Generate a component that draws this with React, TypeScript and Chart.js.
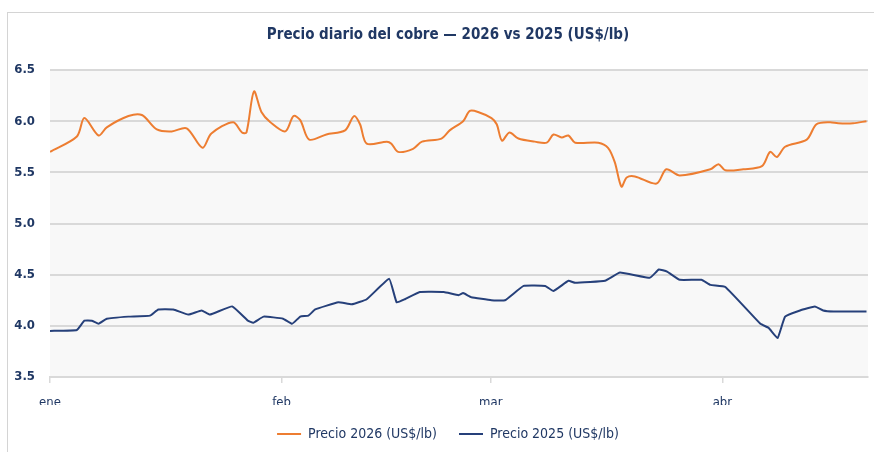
import React, { useEffect, useRef } from "react";
import { Chart, registerables } from "chart.js";

Chart.register(...registerables);

const monthTickDays = [0, 31, 59, 90];
const monthTickLabels = ["ene", "feb", "mar", "abr"];

const days2026 = [0, 3.6, 4.6, 6.5, 7.6, 10.5, 12.3, 14.3, 16.3, 18.3, 20.4, 21.6, 24.5, 25.7, 26.3, 27.3, 28.3, 29.5, 31.5, 32.6, 33.5, 34.7, 37.0, 39.5, 40.7, 41.5, 42.4, 45.1, 45.7, 46.6, 48.6, 49.8, 52.4, 53.5, 55.3, 56.2, 57.3, 59.1, 59.8, 60.5, 61.5, 62.7, 64.9, 66.5, 67.4, 68.5, 69.4, 70.3, 73.4, 74.7, 75.6, 76.5, 77.2, 78.3, 81.2, 82.5, 84.3, 88.4, 89.5, 90.4, 92.8, 95.3, 96.4, 97.3, 98.4, 101.3, 102.6, 104.4, 105.5, 107.5, 109.3];
const price2026 = [5.70, 5.85, 6.03, 5.86, 5.94, 6.05, 6.06, 5.92, 5.90, 5.93, 5.74, 5.88, 5.99, 5.89, 5.89, 6.29, 6.09, 5.99, 5.90, 6.05, 6.01, 5.82, 5.87, 5.91, 6.05, 5.97, 5.78, 5.80, 5.78, 5.70, 5.73, 5.80, 5.83, 5.91, 6.00, 6.10, 6.09, 6.03, 5.97, 5.81, 5.89, 5.83, 5.80, 5.79, 5.87, 5.84, 5.86, 5.79, 5.79, 5.74, 5.60, 5.36, 5.45, 5.46, 5.39, 5.53, 5.47, 5.53, 5.58, 5.52, 5.53, 5.56, 5.70, 5.65, 5.75, 5.82, 5.97, 5.99, 5.98, 5.98, 6.00];

const days2025 = [0, 3.6, 4.6, 5.6, 6.5, 7.6, 10.5, 13.4, 14.5, 16.5, 18.5, 20.3, 21.4, 24.4, 26.5, 27.2, 28.6, 31.2, 32.4, 33.5, 34.6, 35.5, 38.6, 40.4, 42.4, 45.4, 46.4, 47.5, 49.5, 52.7, 54.7, 55.3, 56.4, 59.1, 60.9, 63.4, 66.3, 67.4, 69.4, 70.3, 74.3, 76.3, 80.3, 81.5, 82.6, 84.3, 87.2, 88.4, 90.4, 95.1, 96.2, 97.4, 98.4, 100.4, 102.4, 103.5, 104.9, 109.3];
const price2025 = [3.95, 3.96, 4.05, 4.05, 4.02, 4.07, 4.09, 4.10, 4.16, 4.16, 4.11, 4.15, 4.11, 4.19, 4.05, 4.03, 4.09, 4.07, 4.02, 4.09, 4.10, 4.16, 4.23, 4.21, 4.26, 4.46, 4.23, 4.26, 4.33, 4.33, 4.30, 4.32, 4.28, 4.25, 4.25, 4.39, 4.39, 4.34, 4.44, 4.42, 4.44, 4.52, 4.47, 4.55, 4.53, 4.45, 4.45, 4.40, 4.38, 4.02, 3.98, 3.88, 4.09, 4.15, 4.19, 4.15, 4.14, 4.14];

const FONT = "'Liberation Sans Narrow', 'DejaVu Sans Condensed', sans-serif";
const NAVY = "#203864";
const ORANGE = "#ED7D31";
const BLUE = "#26407a";
const GRID = "#d9d9d9";

const bgPlugin = {
  id: "plotBg",
  beforeDraw(chart: any) {
    const { ctx, chartArea } = chart;
    if (!chartArea) return;
    ctx.save();
    ctx.fillStyle = "#f8f8f8";
    ctx.fillRect(chartArea.left, chartArea.top, chartArea.right - chartArea.left, chartArea.bottom - chartArea.top);
    ctx.restore();
  },
};

export default function App() {
  const ref = useRef<HTMLCanvasElement>(null);

  useEffect(() => {
    if (!ref.current) return;
    const chart = new Chart(ref.current, {
      type: "line",
      data: {
        datasets: [
          {
            label: "Precio 2026 (US$/lb)",
            data: days2026.map((d, i) => ({ x: d, y: price2026[i] })),
            borderColor: ORANGE,
            backgroundColor: ORANGE,
            borderWidth: 2,
            pointRadius: 0,
            tension: 0.3,
            fill: false,
          },
          {
            label: "Precio 2025 (US$/lb)",
            data: days2025.map((d, i) => ({ x: d, y: price2025[i] })),
            borderColor: BLUE,
            backgroundColor: BLUE,
            borderWidth: 2,
            pointRadius: 0,
            tension: 0.1,
            fill: false,
          },
        ],
      },
      options: {
        responsive: false,
        animation: false,
        layout: { padding: { left: 0, right: 0, top: 0, bottom: 1 } },
        plugins: {
          title: {
            display: true,
            text: "Precio diario del cobre — 2026 vs 2025 (US$/lb)",
            color: NAVY,
            font: { family: FONT, size: 15, weight: "bold" },
            padding: { top: 26, bottom: 26 },
          },
          legend: {
            position: "bottom",
            labels: {
              color: NAVY,
              font: { family: FONT, size: 14 },
              boxWidth: 24,
              boxHeight: 2,
              padding: 22,
              generateLabels(chart: any) {
                const items = Chart.defaults.plugins.legend.labels.generateLabels(chart);
                return items.map((it: any) => ({ ...it, lineWidth: 0 }));
              },
            },
          },
          tooltip: { enabled: false },
        },
        scales: {
          x: {
            type: "linear",
            min: 0,
            max: 109.5,
            afterBuildTicks(scale: any) {
              scale.ticks = monthTickDays.map((v) => ({ value: v }));
            },
            afterFit(scale: any) {
              scale.height = 28;
            },
            ticks: {
              color: NAVY,
              font: { family: FONT, size: 13 },
              padding: 12,
              maxRotation: 0,
              autoSkip: false,
              callback(value: any) {
                const idx = monthTickDays.indexOf(Number(value));
                return idx >= 0 ? monthTickLabels[idx] : "";
              },
            },
            grid: { drawOnChartArea: false, drawTicks: true, tickLength: 6, color: GRID, lineWidth: 1.5 },
            border: { display: true, color: GRID, width: 2 },
          },
          y: {
            min: 3.5,
            max: 6.5,
            afterFit(scale: any) {
              scale.width = 50;
            },
            ticks: {
              stepSize: 0.5,
              color: NAVY,
              font: { family: FONT, size: 13, weight: "bold" },
              padding: 15,
              callback(value: any) {
                return Number(value).toFixed(1);
              },
            },
            grid: { color: GRID, lineWidth: 2, drawTicks: false },
            border: { display: false },
          },
          yRightSpacer: {
            type: "linear",
            position: "right",
            min: 0,
            max: 1,
            afterFit(scale: any) {
              scale.width = 28;
            },
            ticks: { display: false },
            grid: { display: false, drawTicks: false },
            border: { display: false },
          },
        },
      },
      plugins: [bgPlugin],
    } as any);
    return () => chart.destroy();
  }, []);

  return (
    <div style={{ position: "absolute", left: 0, top: 0, width: 874, height: 452, background: "#fff", overflow: "hidden" }}>
      <div style={{ position: "absolute", left: 7, top: 12, width: 900, height: 480, border: "1px solid #d4d4d4", boxSizing: "border-box" }} />
      <canvas ref={ref} width={896} height={452} style={{ position: "absolute", left: 0, top: 0 }} />
    </div>
  );
}
